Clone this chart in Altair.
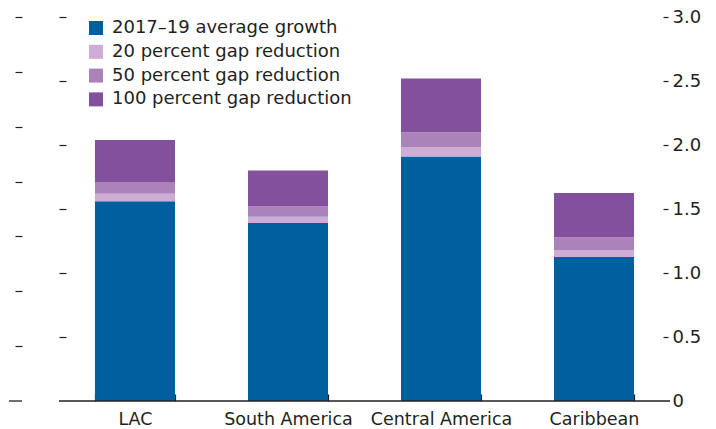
import altair as alt
import pandas as pd

# ---- data ----
regions = ["LAC", "South America", "Central America", "Caribbean"]
series = ["2017–19 average growth", "20 percent gap reduction",
          "50 percent gap reduction", "100 percent gap reduction"]
colors = ["#005F9F", "#CDADD5", "#AB83BA", "#83509E"]

growth_base = [1.56, 1.39, 1.91, 1.125]   # 2017-19 average growth
growth_20 = [1.62, 1.44, 1.98, 1.18]      # with 20 percent gap reduction
growth_50 = [1.71, 1.52, 2.10, 1.28]      # with 50 percent gap reduction
growth_100 = [2.04, 1.80, 2.52, 1.625]    # with 100 percent gap reduction

y_ticks = [0, 0.5, 1.0, 1.5, 2.0, 2.5, 3.0]
neighbour_ticks = [1, 2, 3, 4, 5, 6, 7]

rows = []
levels = [growth_base, growth_20, growth_50, growth_100]
for i, r in enumerate(regions):
    prev = 0.0
    for s, lv in zip(series, levels):
        rows.append({"region": r, "series": s, "start": prev, "end": lv[i]})
        prev = lv[i]
df = pd.DataFrame(rows)
df["order"] = df["series"].map({s: k for k, s in enumerate(series)})

FONT = "DejaVu Sans"
FS = 18
TXT = "#231F20"

xscale = alt.Scale(paddingInner=0.477, paddingOuter=0.235)
yscale = alt.Scale(domain=[0, 3], nice=False, zero=True)

bars = alt.Chart(df).mark_bar().encode(
    x=alt.X("region:N", sort=regions, scale=xscale, title=None,
            axis=alt.Axis(orient="bottom", offset=-7, tickSize=7, domain=False,
                          tickBand="extent", labelAngle=0, labelFontSize=17.5,
                          labelPadding=9.5, labelColor=TXT, tickColor=TXT,
                          tickWidth=1.2, labelFont=FONT, grid=False)),
    y=alt.Y("start:Q", scale=yscale, title=None,
            axis=alt.Axis(orient="right", values=y_ticks, offset=-7, tickSize=5,
                          domain=False, grid=False, labelFontSize=FS,
                          labelPadding=4, labelColor=TXT, tickColor=TXT,
                          labelFont=FONT, tickWidth=1.2, minExtent=0,
                          labelExpr="datum.value === 0 ? '0' : format(datum.value, '.1f')",
                          tickOpacity={"condition": {"test": "datum.value === 0", "value": 0}, "value": 1})),
    y2="end:Q",
    color=alt.Color("series:N", sort=series,
                    scale=alt.Scale(domain=series, range=colors),
                    legend=alt.Legend(title=None, orient="none", legendX=78, legendY=2,
                                      symbolType="square", symbolSize=196,
                                      symbolStrokeWidth=0, symbolOpacity=1,
                                      labelFontSize=FS, labelFont=FONT,
                                      labelColor=TXT, rowPadding=5.8, labelOffset=7,
                                      labelLimit=400)),
    order=alt.Order("order:Q"),
)

base_df = pd.DataFrame({"zero": [0.0]})
baseline = alt.Chart(base_df).mark_rule(color=TXT, strokeWidth=1.3).encode(
    y=alt.Y("zero:Q", scale=yscale, title=None,
            axis=alt.Axis(orient="left", values=y_ticks[1:], offset=-7, tickSize=7,
                          domain=False, grid=False, labels=False, minExtent=0,
                          tickColor=TXT, tickWidth=1.2)),
)

main = alt.layer(bars, baseline).resolve_axis(y="independent").properties(
    width=611, height=384)

neighbour = alt.Chart(base_df).mark_rule(color=TXT, strokeWidth=1.3).encode(
    y=alt.Y("zero:Q", scale=alt.Scale(domain=[0, 7], nice=False), title=None,
            axis=alt.Axis(orient="right", values=neighbour_ticks, offset=-7, tickSize=7,
                          domain=False, grid=False, labels=False, minExtent=0,
                          tickColor=TXT, tickWidth=1.2)),
).properties(width=13, height=384)

chart = alt.hconcat(neighbour, main, spacing=35).properties(
    padding={"left": 0, "top": 0, "right": 0, "bottom": 6}
).configure(font=FONT, view=alt.ViewConfig(strokeWidth=0, strokeOpacity=0))

chart.save("out.html", embed_options={"renderer": "svg", "actions": False})
